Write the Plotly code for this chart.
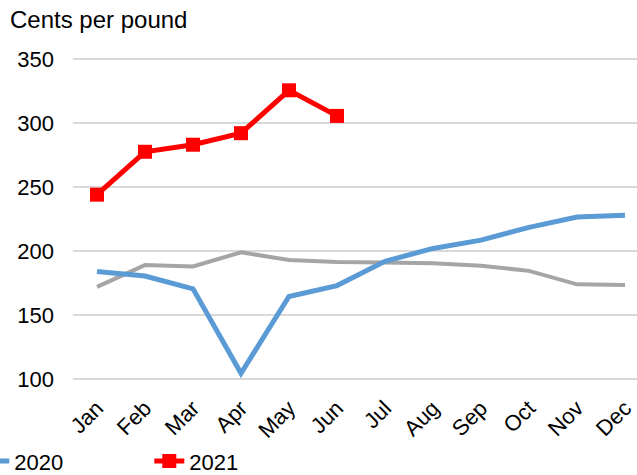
import plotly.graph_objects as go

months = ["Jan", "Feb", "Mar", "Apr", "May", "Jun", "Jul", "Aug", "Sep", "Oct", "Nov", "Dec"]
avg_series = [172, 189, 188, 199, 193, 191.5, 191, 190.5, 188.5, 184.5, 174, 173.5]
y2020 = [184, 180.5, 170.5, 104.5, 164.5, 173, 192, 202, 208.5, 218.5, 226.5, 228]
y2021 = [244, 277.5, 283, 292, 325.5, 305.5]
yticks = [100, 150, 200, 250, 300, 350]

FONT = "Liberation Sans, Arial, sans-serif"

fig = go.Figure()
fig.add_trace(go.Scatter(x=months, y=avg_series, mode="lines", name="Average",
                         line=dict(color="#A5A5A5", width=4), showlegend=False))
fig.add_trace(go.Scatter(x=months, y=y2020, mode="lines", name="2020",
                         line=dict(color="#5B9BD5", width=5)))
fig.add_trace(go.Scatter(x=months[:len(y2021)], y=y2021, mode="lines+markers", name="2021",
                         line=dict(color="#FF0000", width=5),
                         marker=dict(symbol="square", size=14, color="#FF0000")))

# plot area: x 73..637; y range 98.5..351.5 at 1.28 px/unit
YR = [98.5, 351.5]
PH = (YR[1] - YR[0]) * 1.28
TOP = 59 - (YR[1] - 350) * 1.28
BOTTOM_PX = TOP + PH
fig.add_annotation(text="Cents per pound", xref="paper", yref="paper",
                   x=(8 - 73) / 564, y=(BOTTOM_PX - 20) / PH, xanchor="left", yanchor="middle",
                   showarrow=False, font=dict(size=24, color="#000000", family=FONT))

fig.update_layout(
    width=637, height=475,
    margin=dict(l=73, r=0, t=TOP, b=475 - BOTTOM_PX, autoexpand=False),
    paper_bgcolor="white", plot_bgcolor="white",
    font=dict(family=FONT, size=22, color="#000000"),
    showlegend=True,
    legend=dict(orientation="h", x=-0.175, xanchor="left", y=-0.183, yanchor="top",
                font=dict(size=22, family=FONT, color="#000000"),
                bgcolor="rgba(0,0,0,0)", entrywidth=130, entrywidthmode="pixels"),
)
fig.update_xaxes(range=[-0.5, 11.25], tickangle=-45, showgrid=False, showline=False,
                 zeroline=False, ticks="", ticklabelstandoff=9,
                 tickfont=dict(size=22, family=FONT))
fig.update_yaxes(range=YR, tickvals=yticks, showgrid=True, gridcolor="#D9D9D9",
                 gridwidth=1.5, zeroline=False, showline=False, ticks="",
                 ticklabelstandoff=18, tickfont=dict(size=22, family=FONT))

fig.write_html("out.html", config={"displayModeBar": False},
               post_script="document.body.style.margin='0';")
